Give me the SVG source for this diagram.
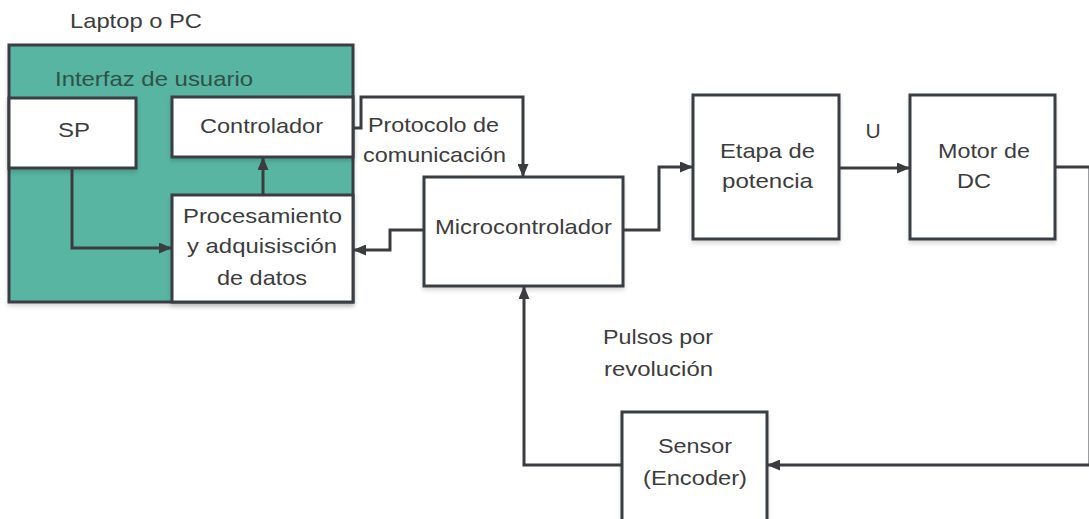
<svg xmlns="http://www.w3.org/2000/svg" width="1089" height="519" viewBox="0 0 1089 519">
<defs>
<marker id="ah" viewBox="0 0 13 11" refX="13" refY="5.5" markerWidth="13" markerHeight="11" markerUnits="userSpaceOnUse" orient="auto">
<path d="M0,0 L13,5.5 L0,11 Z" fill="#3a3c40"/>
</marker>
<filter id="sh" x="-10%" y="-10%" width="130%" height="130%">
<feGaussianBlur in="SourceAlpha" stdDeviation="2"/>
<feOffset dx="0" dy="3" result="b"/>
<feComponentTransfer><feFuncA type="linear" slope="0.15"/></feComponentTransfer>
<feMerge><feMergeNode/><feMergeNode in="SourceGraphic"/></feMerge>
</filter>
</defs>
<style>
.box{fill:#ffffff;stroke:#3a3e45;stroke-width:3;filter:url(#sh)}
.grp{fill:#58b5a1;stroke:#3a3e45;stroke-width:3;filter:url(#sh)}
.t{font-family:"Liberation Sans",Arial,sans-serif;font-size:21px;fill:#3c3c3c;text-anchor:middle}
.tl{font-family:"Liberation Sans",Arial,sans-serif;font-size:21px;fill:#3c3c3c}
.c{fill:none;stroke:#3a3c40;stroke-width:3}
</style>
<rect width="1089" height="519" fill="#ffffff"/>

<g id="laptop">
<text class="tl" x="70" y="28" textLength="132" lengthAdjust="spacingAndGlyphs">Laptop o PC</text>
<rect class="grp" x="9" y="45" width="344" height="257"/>
<text class="tl" x="55" y="86" textLength="198" lengthAdjust="spacingAndGlyphs" style="fill:#2f514a">Interfaz de usuario</text>
</g>

<g id="sp">
<rect class="box" x="9" y="98" width="127" height="70"/>
<text class="t" x="74" y="137" textLength="32" lengthAdjust="spacingAndGlyphs">SP</text>
</g>

<g id="controlador">
<rect class="box" x="172" y="97" width="181" height="60"/>
<text class="t" x="261.5" y="133" textLength="123" lengthAdjust="spacingAndGlyphs">Controlador</text>
</g>

<g id="procesamiento">
<rect class="box" x="172" y="195" width="181" height="107"/>
<text class="t" x="262.5" y="223" textLength="159" lengthAdjust="spacingAndGlyphs">Procesamiento</text>
<text class="t" x="262" y="253" textLength="150" lengthAdjust="spacingAndGlyphs">y adquisisción</text>
<text class="t" x="262" y="285" textLength="90" lengthAdjust="spacingAndGlyphs">de datos</text>
</g>

<g id="microcontrolador">
<rect class="box" x="424" y="177" width="199" height="109"/>
<text class="t" x="523.5" y="234" textLength="177" lengthAdjust="spacingAndGlyphs">Microcontrolador</text>
</g>

<g id="etapa">
<rect class="box" x="693" y="95" width="146" height="144"/>
<text class="t" x="767.5" y="158" textLength="95" lengthAdjust="spacingAndGlyphs">Etapa de</text>
<text class="t" x="767.5" y="188" textLength="91" lengthAdjust="spacingAndGlyphs">potencia</text>
</g>

<g id="motor">
<rect class="box" x="910" y="95" width="145" height="144"/>
<text class="t" x="984" y="158" textLength="92" lengthAdjust="spacingAndGlyphs">Motor de</text>
<text class="t" x="974" y="188" textLength="34" lengthAdjust="spacingAndGlyphs">DC</text>
</g>

<g id="sensor">
<rect class="box" x="622" y="412" width="145" height="120"/>
<text class="t" x="695" y="453" textLength="74" lengthAdjust="spacingAndGlyphs">Sensor</text>
<text class="t" x="695" y="485" textLength="104" lengthAdjust="spacingAndGlyphs">(Encoder)</text>
</g>

<g id="connectors">
<path class="c" d="M263,195 L263,157" marker-end="url(#ah)"/>
<path class="c" d="M72,168 L72,248 L172,248" marker-end="url(#ah)"/>
<path class="c" d="M353,128 L361,128 L361,97 L523,97 L523,177" marker-end="url(#ah)"/>
<path class="c" d="M424,230 L390,230 L390,250 L353,250" marker-end="url(#ah)"/>
<path class="c" d="M623,230 L659,230 L659,167 L693,167" marker-end="url(#ah)"/>
<path class="c" d="M839,168 L910,168" marker-end="url(#ah)"/>
<path class="c" d="M1055,167 L1090,167 L1090,465 L767,465" marker-end="url(#ah)"/>
<path class="c" d="M622,465 L524,465 L524,286" marker-end="url(#ah)"/>
<text class="tl" x="368" y="132" textLength="131" lengthAdjust="spacingAndGlyphs">Protocolo de</text>
<text class="tl" x="363" y="162" textLength="143" lengthAdjust="spacingAndGlyphs">comunicación</text>
<text class="t" x="873" y="138">U</text>
<text class="tl" x="603" y="344" textLength="110" lengthAdjust="spacingAndGlyphs">Pulsos por</text>
<text class="tl" x="604" y="376" textLength="109" lengthAdjust="spacingAndGlyphs">revolución</text>
</g>
</svg>
